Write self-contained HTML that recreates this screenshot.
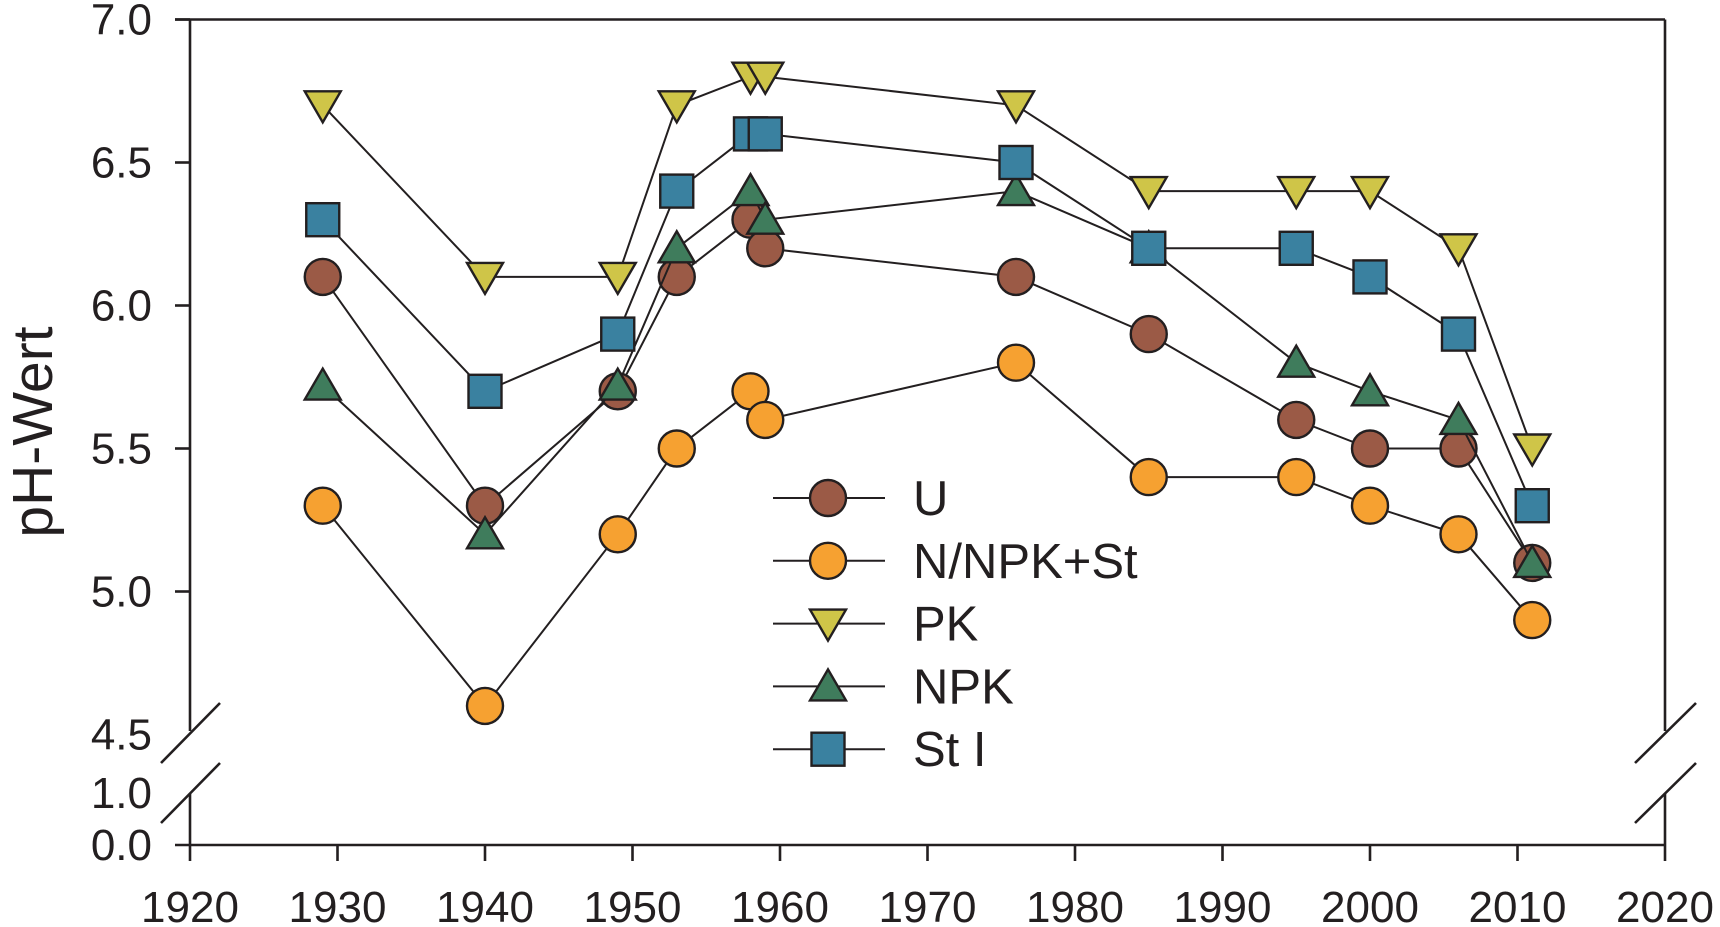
<!DOCTYPE html>
<html><head><meta charset="utf-8"><style>
html,body{margin:0;padding:0;background:#fff;}
svg{display:block;}
text{font-family:"Liberation Sans",Arial,sans-serif;fill:#231f20;}
</style></head><body>
<svg id="chart" width="1720" height="927" viewBox="0 0 1720 927">
<g id="axes" stroke="#231f20" stroke-width="2.6" fill="none">
  <line x1="175" y1="19.5" x2="1665" y2="19.5"/>
  <line x1="190" y1="19.5" x2="190" y2="731"/>
  <line x1="190" y1="793" x2="190" y2="845"/>
  <line x1="1665" y1="19.5" x2="1665" y2="731"/>
  <line x1="1665" y1="793" x2="1665" y2="845"/>
  <line x1="175" y1="845" x2="1665" y2="845"/>
  <line x1="161" y1="763" x2="220" y2="703"/>
  <line x1="161" y1="823" x2="220" y2="763"/>
  <line x1="1635" y1="763" x2="1696" y2="703"/>
  <line x1="1635" y1="823" x2="1696" y2="763"/>
</g>
<g id="ticks"></g>
<text x="52" y="432" font-size="57" text-anchor="middle" transform="rotate(-90 52 432)">pH-Wert</text>
<g id="series"></g>
<g id="legend"></g>
</svg>
<script>
const years = [1929,1940,1949,1953,1958,1959,1976,1985,1995,2000,2006,2011];
const seriesNames = ["U","N/NPK+St","PK","NPK","St I"];
const valsU   = [6.1,5.3,5.7,6.1,6.3,6.2,6.1,5.9,5.6,5.5,5.5,5.1];
const valsN   = [5.3,4.6,5.2,5.5,5.7,5.6,5.8,5.4,5.4,5.3,5.2,4.9];
const valsPK  = [6.7,6.1,6.1,6.7,6.8,6.8,6.7,6.4,6.4,6.4,6.2,5.5];
const valsNPK = [5.72,5.2,5.72,6.2,6.4,6.3,6.4,6.2,5.8,5.7,5.6,5.1];
const valsSt  = [6.3,5.7,5.9,6.4,6.6,6.6,6.5,6.2,6.2,6.1,5.9,5.3];
const xTicks = [1920,1930,1940,1950,1960,1970,1980,1990,2000,2010,2020];
const yTicks = [4.5,5.0,5.5,6.0,6.5,7.0];
const yTicksLow = [0.0,1.0];

const NS="http://www.w3.org/2000/svg";
const xs = y => 190 + (y-1920)*14.75;
const ys = v => 19.5 + (7-v)*286;
const ysLow = v => 845 - v*52;
function mk(tag, attrs, parent){const e=document.createElementNS(NS,tag);for(const k in attrs)e.setAttribute(k,attrs[k]);parent.appendChild(e);return e;}

const tk=document.getElementById('ticks');
xTicks.forEach(t=>{
  const l=mk('line',{x1:xs(t),y1:845,x2:xs(t),y2:861,stroke:'#231f20','stroke-width':2.6},tk);
  
  
  const tx=mk('text',{x:xs(t),y:922,'font-size':44,'text-anchor':'middle'},tk);
  tx.textContent=t;
  
  
});
yTicks.forEach(t=>{
  if(t>4.6){
    const l=mk('line',{x1:175,y1:ys(t),x2:190,y2:ys(t),stroke:'#231f20','stroke-width':2.6},tk);
    
    
  }
  const tx=mk('text',{x:152,y:ys(t)+15,'font-size':44,'text-anchor':'end'},tk);
  tx.textContent=t.toFixed(1);
  
  
});
yTicksLow.forEach(t=>{
  const tx=mk('text',{x:152,y:ysLow(t)+15,'font-size':44,'text-anchor':'end'},tk);
  tx.textContent=t.toFixed(1);
  
  
});

const styles=[
  {vals:valsU,color:'#9b5a46',shape:'circle'},
  {vals:valsN,color:'#f6a131',shape:'circle'},
  {vals:valsPK,color:'#cfc548',shape:'down'},
  {vals:valsNPK,color:'#3f7c5c',shape:'up'},
  {vals:valsSt,color:'#3a81a0',shape:'square'}
];
function marker(shape,cx,cy,color,parent){
  let e;
  const a={fill:color,stroke:'#231f20','stroke-width':2.4};
  if(shape==='circle'){e=mk('circle',Object.assign({cx:cx,cy:cy,r:18},a),parent);}
  else if(shape==='square'){e=mk('rect',Object.assign({x:cx-16.5,y:cy-16.5,width:33,height:33},a),parent);}
  else if(shape==='down'){e=mk('polygon',Object.assign({points:`${cx-18},${cy-14} ${cx+18},${cy-14} ${cx},${cy+17}`},a),parent);}
  else {e=mk('polygon',Object.assign({points:`${cx-18},${cy+14} ${cx+18},${cy+14} ${cx},${cy-17}`},a),parent);}
  return e;
}
const sg=document.getElementById('series');
styles.forEach((s,i)=>{
  const g=mk('g',{},sg);
  
  
  const pts=years.map((y,j)=>xs(y)+','+ys(s.vals[j])).join(' ');
  const pl=mk('polyline',{points:pts,fill:'none',stroke:'#231f20','stroke-width':2},g);
  
  
  years.forEach((y,j)=>{
    const m=marker(s.shape,xs(y),ys(s.vals[j]),s.color,g);
    
    
  });
});
const lg=document.getElementById('legend');
styles.forEach((s,i)=>{
  const y=498+i*62.8;
  const g=mk('g',{},lg);
  
  
  mk('line',{x1:773,y1:y,x2:885,y2:y,stroke:'#231f20','stroke-width':2},g);
  marker(s.shape,828,y,s.color,g);
  const tx=mk('text',{x:913,y:y+17,'font-size':49},g);
  tx.textContent=seriesNames[i];
});
</script>
</body></html>
